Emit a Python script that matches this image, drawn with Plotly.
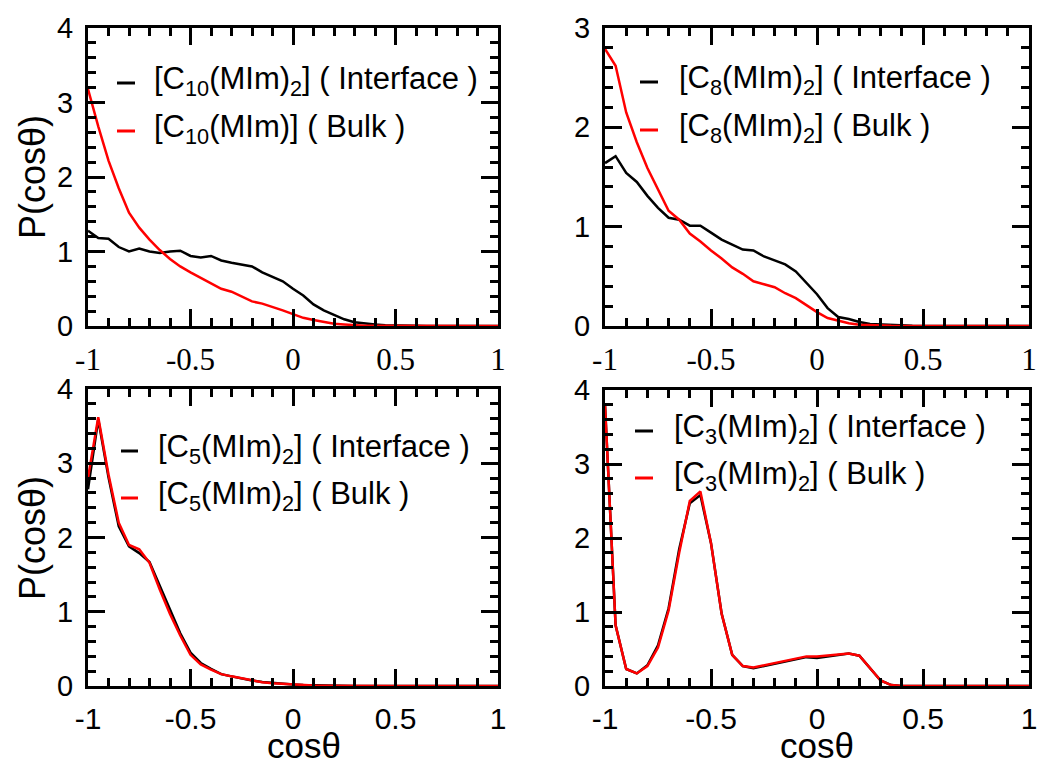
import plotly.graph_objects as go

# ---------------- data ----------------
cos_theta = [-1.00, -0.95, -0.90, -0.85, -0.80, -0.75, -0.70, -0.65, -0.60, -0.55,
             -0.50, -0.45, -0.40, -0.35, -0.30, -0.25, -0.20, -0.15, -0.10, -0.05,
             0.00, 0.05, 0.10, 0.15, 0.20, 0.25, 0.30, 0.35, 0.40, 0.45,
             0.50, 0.55, 0.60, 0.65, 0.70, 0.75, 0.80, 0.85, 0.90, 0.95, 1.00]

c10_interface = [1.28, 1.18, 1.17, 1.06, 1.00, 1.04, 1.00, 0.98, 1.00, 1.01,
                 0.94, 0.92, 0.94, 0.88, 0.85, 0.82, 0.80, 0.72, 0.66, 0.60,
                 0.50, 0.41, 0.29, 0.21, 0.15, 0.09, 0.05, 0.03, 0.02, 0.01,
                 0.005, 0.003, 0.002, 0.001, 0, 0, 0, 0, 0, 0, 0]
c10_bulk = [3.18, 2.68, 2.22, 1.85, 1.52, 1.32, 1.16, 1.02, 0.90, 0.80,
            0.72, 0.65, 0.57, 0.50, 0.46, 0.40, 0.33, 0.30, 0.26, 0.21,
            0.16, 0.11, 0.08, 0.05, 0.03, 0.02, 0.01, 0.005, 0.003, 0.002,
            0.001, 0, 0, 0, 0, 0, 0, 0, 0, 0, 0]

c8_interface = [1.64, 1.71, 1.54, 1.45, 1.31, 1.19, 1.09, 1.07, 1.01, 1.01,
                0.94, 0.87, 0.82, 0.77, 0.76, 0.70, 0.66, 0.62, 0.55, 0.43,
                0.32, 0.18, 0.09, 0.07, 0.04, 0.02, 0.015, 0.005, 0.003, 0.002,
                0.001, 0, 0, 0, 0, 0, 0, 0, 0, 0, 0]
c8_bulk = [2.79, 2.62, 2.15, 1.85, 1.59, 1.37, 1.16, 1.07, 0.93, 0.85,
           0.76, 0.68, 0.59, 0.525, 0.45, 0.42, 0.39, 0.33, 0.28, 0.21,
           0.14, 0.08, 0.05, 0.027, 0.013, 0.007, 0.003, 0.002, 0.001, 0,
           0, 0, 0, 0, 0, 0, 0, 0, 0, 0, 0]

c5_interface = [2.65, 3.59, 2.81, 2.15, 1.88, 1.79, 1.67, 1.35, 1.04, 0.71,
                0.45, 0.31, 0.23, 0.16, 0.13, 0.10, 0.075, 0.053, 0.04, 0.03,
                0.02, 0.012, 0.008, 0.005, 0.003, 0.002, 0.001, 0, 0, 0,
                0, 0, 0, 0, 0, 0, 0, 0, 0, 0, 0]
c5_bulk = [2.80, 3.62, 2.85, 2.20, 1.90, 1.84, 1.66, 1.30, 0.97, 0.68,
           0.42, 0.29, 0.22, 0.16, 0.13, 0.10, 0.072, 0.05, 0.038, 0.028,
           0.018, 0.01, 0.006, 0.004, 0.002, 0.001, 0, 0, 0, 0,
           0, 0, 0, 0, 0, 0, 0, 0, 0, 0, 0]

c3_interface = [3.80, 0.82, 0.23, 0.17, 0.28, 0.55, 1.05, 1.85, 2.47, 2.58,
                1.93, 0.98, 0.42, 0.27, 0.24, 0.27, 0.30, 0.34, 0.37, 0.39,
                0.38, 0.40, 0.42, 0.44, 0.41, 0.24, 0.075, 0.013, 0, 0,
                0, 0, 0, 0, 0, 0, 0, 0, 0, 0, 0]
c3_bulk = [3.80, 0.82, 0.23, 0.17, 0.27, 0.52, 1.02, 1.80, 2.50, 2.63,
           1.93, 0.98, 0.42, 0.27, 0.25, 0.28, 0.31, 0.35, 0.38, 0.40,
           0.40, 0.41, 0.42, 0.44, 0.41, 0.24, 0.075, 0.013, 0, 0,
           0, 0, 0, 0, 0, 0, 0, 0, 0, 0, 0]

x_tickvals = [-1, -0.5, 0, 0.5, 1]
x_ticktext = ["-1", "-0.5", "0", "0.5", "1"]
y_ticktext4 = ["0", "1", "2", "3", "4"]
y_ticktext3 = ["0", "1", "2", "3"]

legend_labels = [
    ("[C<sub>10</sub>(MIm)<sub>2</sub>] ( Interface )", "[C<sub>10</sub>(MIm)] ( Bulk )"),
    ("[C<sub>8</sub>(MIm)<sub>2</sub>] ( Interface )", "[C<sub>8</sub>(MIm)<sub>2</sub>] ( Bulk )"),
    ("[C<sub>5</sub>(MIm)<sub>2</sub>] ( Interface )", "[C<sub>5</sub>(MIm)<sub>2</sub>] ( Bulk )"),
    ("[C<sub>3</sub>(MIm)<sub>2</sub>] ( Interface )", "[C<sub>3</sub>(MIm)<sub>2</sub>] ( Bulk )"),
]
y_title = "P(cosθ)"
x_title = "cosθ"

panels = [
    (c10_interface, c10_bulk, 4),
    (c8_interface, c8_bulk, 3),
    (c5_interface, c5_bulk, 4),
    (c3_interface, c3_bulk, 4),
]

# ---------------- layout helpers ----------------
W, H = 1040, 765
def px(p):
    return p / W
def py(p):
    return 1 - p / H

SANS = "Liberation Sans, Arial, sans-serif"
SERIF = "Liberation Serif, Times New Roman, serif"

# inner plot-area pixel boxes: (left, right, top, bottom)
boxes = [(88, 498, 28, 326), (605, 1029, 28, 326),
         (88, 498, 389, 686), (605, 1029, 390, 686)]

fig = go.Figure()
layout = dict(width=W, height=H, margin=dict(l=0, r=0, t=0, b=0, autoexpand=False),
              paper_bgcolor="white", plot_bgcolor="white", showlegend=False)

for i, ((yi, yb, ymax), (l, r, t, b)) in enumerate(zip(panels, boxes)):
    n = i + 1
    xs = "x" if n == 1 else f"x{n}"
    ys = "y" if n == 1 else f"y{n}"
    fig.add_trace(go.Scatter(x=cos_theta, y=yi, mode="lines", xaxis=xs, yaxis=ys,
                             line=dict(color="black", width=2.5), name="Interface"))
    fig.add_trace(go.Scatter(x=cos_theta, y=yb, mode="lines", xaxis=xs, yaxis=ys,
                             line=dict(color="#ff0000", width=2.5), name="Bulk"))
    top_row = n <= 2
    xfont = dict(family=SERIF if top_row else SANS, size=31 if top_row else 30, color="black")
    common = dict(showline=True, linewidth=3, linecolor="black", mirror="ticks",
                  ticks="inside", ticklen=17, tickwidth=2.5, tickcolor="black",
                  showgrid=False, zeroline=False, fixedrange=True, automargin=False)
    layout["xaxis" if n == 1 else f"xaxis{n}"] = dict(
        common, domain=[px(l), px(r)], anchor=ys, range=[-1, 1],
        tickvals=x_tickvals, ticktext=x_ticktext, tickfont=xfont,
        minor=dict(ticks="inside", ticklen=8, tickwidth=2.5, tickcolor="black", dtick=0.1, showgrid=False),
        ticklabelstandoff=4)
    yt = y_ticktext4 if ymax == 4 else y_ticktext3
    layout["yaxis" if n == 1 else f"yaxis{n}"] = dict(
        common, domain=[py(b), py(t)], anchor=xs, range=[0, ymax],
        tickvals=list(range(ymax + 1)), ticktext=yt,
        tickfont=dict(family=SANS, size=29, color="black"),
        minor=dict(ticks="inside", ticklen=8, tickwidth=2.5, tickcolor="black", dtick=0.2, showgrid=False),
        ticklabelstandoff=6)

fig.update_layout(**layout)

# legends drawn as sample lines + labels
legend_pos = [  # sample x0, x1, text x, row1 y, row2 y (pixels)
    (117, 135, 152, 83, 131),
    (640, 658, 677, 82, 130),
    (121, 138, 156, 451, 498),
    (635, 653, 672, 431, 478),
]
for (lab_i, lab_b), (sx0, sx1, tx, r1, r2) in zip(legend_labels, legend_pos):
    for lab, yy, col in ((lab_i, r1, "black"), (lab_b, r2, "#ff0000")):
        fig.add_shape(type="line", xref="paper", yref="paper",
                      x0=px(sx0), x1=px(sx1), y0=py(yy), y1=py(yy),
                      line=dict(color=col, width=3))
        fig.add_annotation(text=lab, xref="paper", yref="paper", x=px(tx), y=py(yy - 2),
                           xanchor="left", yanchor="middle", showarrow=False,
                           font=dict(family=SANS, size=31, color="black"))

# axis titles
for yc in (177, 538):
    fig.add_annotation(text=y_title, xref="paper", yref="paper", x=px(32), y=py(yc),
                       textangle=-90, xanchor="center", yanchor="middle", showarrow=False,
                       font=dict(family=SANS, size=36, color="black"))
for xc in (304, 817):
    fig.add_annotation(text=x_title, xref="paper", yref="paper", x=px(xc), y=py(745),
                       xanchor="center", yanchor="middle", showarrow=False,
                       font=dict(family=SANS, size=35, color="black"))

fig.write_html("out.html")
